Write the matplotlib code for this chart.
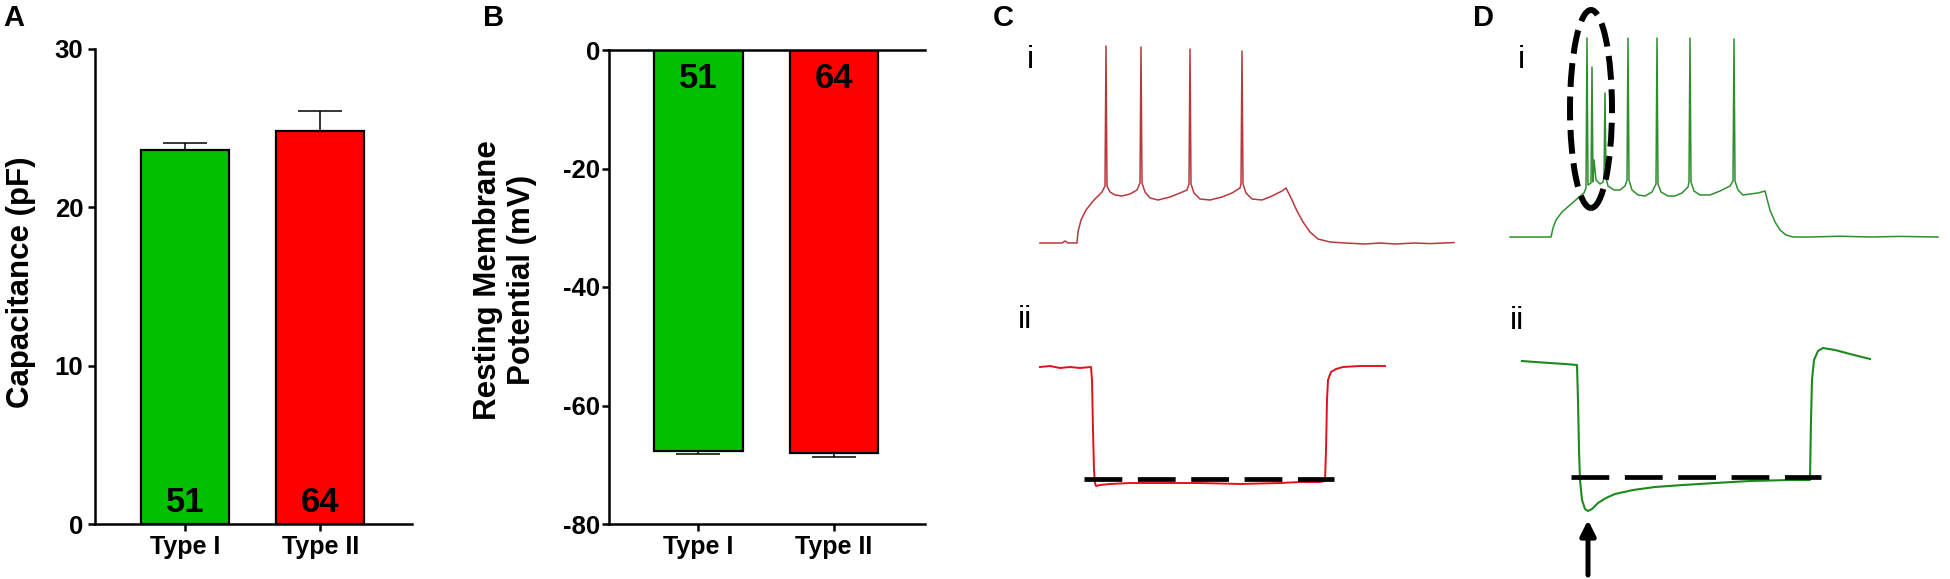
import matplotlib
matplotlib.use("Agg")
import matplotlib.pyplot as plt
from matplotlib.patches import Ellipse

plt.rcParams['font.family'] = ['Liberation Sans', 'DejaVu Sans']

W, H = 1950, 579

# bar data
groups = ['Type I', 'Type II']
bar_colors = ['#00c000', '#ff0000']
n_cells = ['51', '64']
capacitance = [23.6, 24.8]
capacitance_sem = [0.45, 1.3]
rmp = [-67.6, -68.0]
rmp_sem = [0.6, 0.7]
cap_ticks = [0, 10, 20, 30]
rmp_ticks = [0, -20, -40, -60, -80]
rmp_ticklabels = ['0', '-20', '-40', '-60', '-80']

# traces (time in ms, membrane potential in mV)
c1_t = [0, 88, 100, 112, 148, 152, 164, 184, 216, 248, 260, 264, 268, 280, 300, 328, 360, 388, 400,
        404, 408, 420, 440, 472, 520, 560, 588, 596, 600, 604, 616, 640, 680, 728, 768, 800, 804,
        808, 812, 824, 848, 888, 928, 968, 984, 992, 1008, 1028, 1052, 1080, 1112, 1160, 1220,
        1300, 1360, 1420, 1500, 1560, 1656]
c1_v = [-65, -65, -64, -65, -65, -59.5, -53.5, -48.5, -43.5, -39.5, -36.5, 33.5, -36.5, -39.5, -41,
        -41.5, -40.5, -38.5, -35, 33, -35, -39.5, -42.5, -43.5, -42, -40, -38.5, -35.5, 32, -35.5,
        -40, -43, -43.5, -42, -40, -37.5, -35.5, 31, -35.5, -40, -43, -43.5, -41.5, -39, -37.5,
        -39.5, -43.5, -49, -54.5, -59.5, -63, -64.5, -65, -65.5, -65, -65.5, -65, -65.3, -64.8]

c2_t = [0, 40, 80, 120, 160, 204, 208, 212, 216, 220, 224, 240, 280, 360, 480, 640, 800, 960,
        1040, 1120, 1140, 1144, 1148, 1152, 1164, 1184, 1212, 1280, 1380]
c2_v = [-65, -64.75, -65.25, -65, -65.25, -65, -68.25, -80.75, -90.75, -94, -94.75, -94.5, -94.25,
        -94, -94, -94, -94.25, -94, -93.75, -93.75, -93.5, -85.75, -73.25, -68.25, -66.25, -65.5,
        -65, -64.75, -64.75]
c2_step = [-93, 176, 1176]  # level, start, end of dashed reference

d1_t = [0, 164, 172, 184, 208, 240, 272, 296, 304, 308, 312, 324, 328, 332, 336, 344, 360, 372,
        376, 380, 384, 392, 416, 440, 460, 468, 472, 476, 488, 512, 540, 568, 584, 588, 592, 604,
        632, 660, 688, 712, 716, 720, 724, 736, 760, 800, 840, 880, 892, 896, 900, 912, 932, 960,
        992, 1020, 1024, 1040, 1060, 1080, 1104, 1132, 1200, 1320, 1440, 1560, 1712]
d1_v = [-65, -65, -60.5, -56.5, -52.5, -49, -45.5, -43, -40.5, 34.5, -39, -38, 20, -37.5, -26.5,
        -36.5, -38.5, -37.5, -35.5, 7, -35.5, -39.5, -41.5, -41.5, -39.5, -36.5, 34.5, -36.5, -41.5,
        -44, -44.5, -42.5, -38.5, 34.5, -38.5, -42.5, -44.5, -44.5, -43, -40, -37.5, 34.5, -37.5,
        -42, -44, -44, -42, -39.5, -37, 34, -37, -41.5, -44, -43.5, -43, -42, -44, -51.5, -57.5,
        -61.5, -64, -65, -65, -64.6, -65, -64.7, -65]

d2_t = [0, 52, 112, 172, 220, 224, 228, 232, 240, 252, 264, 280, 304, 336, 372, 444, 532, 644,
        772, 912, 1072, 1152, 1156, 1160, 1168, 1184, 1204, 1252, 1312, 1392]
d2_v = [-65, -65.25, -65.5, -65.75, -66, -74.75, -87.25, -94.75, -99.75, -102, -102.5, -102,
        -100.5, -99.25, -98.25, -97.25, -96.5, -96, -95.5, -95, -94.75, -94.75, -79.75, -69.75,
        -64.75, -62.5, -61.75, -62.25, -63.25, -64.5]
d2_step = [-94, 196, 1196]
d2_arrow = [264, -104.75, -118.5]  # time, tip, tail
d1_burst = [324, -1, 168, 99]  # centre t, centre v, width, height


def px_axes(x0, y0, x1, y1):
    return fig.add_axes([x0 / W, 1 - y1 / H, (x1 - x0) / W, (y1 - y0) / H])


fig = plt.figure(figsize=(W / 100, H / 100), dpi=100)

tick_kw = dict(width=1.8, length=5)

# ---- A: capacitance
axA = px_axes(95, 49, 412, 524)
x = range(len(groups))
axA.bar(x, capacitance, width=0.652, color=bar_colors, edgecolor='black', linewidth=1.6, zorder=2)
axA.errorbar(x, capacitance, yerr=[[0, 0], capacitance_sem], fmt='none', ecolor='black',
             elinewidth=1.1, capsize=16, capthick=1.1, zorder=1)
for i, n in enumerate(n_cells):
    axA.text(i, 0.75, n, ha='center', va='baseline', fontsize=25, fontweight='bold')
axA.set_xlim(-0.67, 1.678)
axA.set_ylim(0, 30)
axA.set_yticks(cap_ticks)
axA.set_xticks(list(x))
axA.set_xticklabels(groups, fontsize=18, fontweight='bold')
axA.tick_params(axis='y', pad=3.5, labelsize=18.5, **tick_kw)
axA.tick_params(axis='x', pad=3, **tick_kw)
for lab in axA.get_yticklabels():
    lab.set_fontweight('bold')
for s in ['top', 'right']:
    axA.spines[s].set_visible(False)
for s in ['left', 'bottom']:
    axA.spines[s].set_linewidth(1.8)
fig.text(21 / W, 1 - 282 / H, 'Capacitance (pF)', rotation=90, ha='center', va='center',
         fontsize=22.5, fontweight='bold')

# ---- B: resting membrane potential
axB = px_axes(609, 50, 925, 524)
axB.bar(x, rmp, width=0.652, color=bar_colors, edgecolor='black', linewidth=1.6, zorder=2)
axB.errorbar(x, rmp, yerr=[rmp_sem, [0, 0]], fmt='none', ecolor='black',
             elinewidth=1.1, capsize=16, capthick=1.1, zorder=1)
for i, n in enumerate(n_cells):
    axB.text(i, -4.8, n, ha='center', va='center', fontsize=25, fontweight='bold')
axB.set_xlim(-0.66, 1.672)
axB.set_ylim(-80, 0)
axB.set_yticks(rmp_ticks)
axB.set_yticklabels(rmp_ticklabels)
axB.set_xticks(list(x))
axB.set_xticklabels(groups, fontsize=18, fontweight='bold')
axB.tick_params(axis='y', pad=1.5, labelsize=18.5, **tick_kw)
axB.tick_params(axis='x', pad=3, **tick_kw)
for lab in axB.get_yticklabels():
    lab.set_fontweight('bold')
axB.spines['right'].set_visible(False)
for s in ['left', 'bottom', 'top']:
    axB.spines[s].set_linewidth(1.8)
fig.text(505 / W, 1 - 280 / H, 'Resting Membrane\nPotential (mV)', rotation=90, ha='center',
         va='center', fontsize=22.5, fontweight='bold', linespacing=1.15)

# ---- C / D traces
def trace_axes(rect, xlim, ylim):
    ax = px_axes(*rect)
    ax.set_xlim(*xlim)
    ax.set_ylim(*ylim)
    ax.axis('off')
    return ax


axC1 = trace_axes((1030, 30, 1470, 260), (-40, 1720), (-73.5, 41.5))
axC1.plot(c1_t, c1_v, color='#b8383c', lw=1.1)

axC2 = trace_axes((1030, 340, 1400, 520), (-40, 1440), (-103.25, -58.25))
axC2.plot(c2_t, c2_v, color='#e3121a', lw=1.4)
axC2.plot([c2_step[1], c2_step[2]], [c2_step[0]] * 2, color='black', lw=3.4,
          linestyle=(0, (8, 3.3)), dash_capstyle='butt', zorder=3)

axD1 = trace_axes((1500, 0, 1945, 260), (-40, 1740), (-76.5, 53.5))
axD1.plot(d1_t, d1_v, color='#2f8f2f', lw=1.1)
axD1.add_patch(Ellipse((d1_burst[0], d1_burst[1]), d1_burst[2], d1_burst[3], fill=False,
                       edgecolor='black', lw=4.3, linestyle=(0, (4, 1.6)), zorder=3))

axD2 = trace_axes((1500, 330, 1900, 579), (-88, 1512), (-119.5, -57.25))
axD2.plot(d2_t, d2_v, color='#1d8a1d', lw=1.5)
axD2.plot([d2_step[1], d2_step[2]], [d2_step[0]] * 2, color='black', lw=3.4,
          linestyle=(0, (8, 3.3)), dash_capstyle='butt', zorder=3)
axD2.annotate('', xy=(d2_arrow[0], d2_arrow[1]), xytext=(d2_arrow[0], d2_arrow[2]),
              arrowprops=dict(arrowstyle='-|>,head_width=0.45,head_length=0.9',
                              color='black', lw=3.6, shrinkA=0, shrinkB=0),
              annotation_clip=False)

# panel letters and sub-labels
for letter, xp in [('A', 3), ('B', 483), ('C', 993), ('D', 1473)]:
    fig.text(xp / W, 1 - 26 / H, letter, ha='left', va='baseline', fontsize=21, fontweight='bold')
for lab, xp, yp in [('i', 1027, 68), ('ii', 1018, 328), ('i', 1518, 68), ('ii', 1510, 329)]:
    fig.text(xp / W, 1 - yp / H, lab, ha='left', va='baseline', fontsize=23)

fig.savefig('out.png', dpi=100)
